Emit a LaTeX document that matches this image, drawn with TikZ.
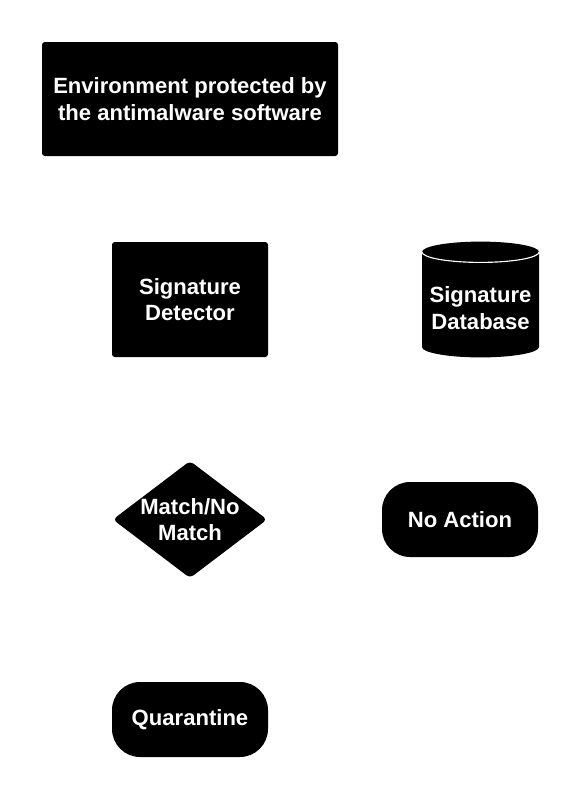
\documentclass[tikz,border=0pt]{standalone}
\usepackage{fontspec}
\setmainfont{Liberation Sans}
\usetikzlibrary{shapes.geometric}

\begin{document}
\begin{tikzpicture}[font=\fontsize{15.7}{19}\selectfont\bfseries,
  block/.style={fill=black, text=white, align=center, inner sep=0pt, rounded corners=2pt},
  terminal/.style={block, rounded corners=20pt, minimum width=3.9cm, minimum height=1.875cm},
  decision/.style={fill=black, shape=diamond, inner sep=0pt, rounded corners=3pt, minimum width=3.86cm, minimum height=2.93cm}]

\useasboundingbox (0,0) rectangle (14.5,-20);

% process boxes
\node[block, minimum width=7.4cm, minimum height=2.85cm] (env) at (4.75,-2.475)
{Environment protected by\\the antimalware software};
\node[block, minimum width=3.9cm, minimum height=2.875cm] (detector) at (4.75,-7.4875)
{Signature\\Detector};

% database cylinder
\fill (10.55,-6.3) arc[start angle=180, end angle=0, x radius=1.4625, y radius=0.26]
  -- (13.475,-8.675) arc[start angle=0, end angle=-180, x radius=1.4625, y radius=0.26] -- cycle;
\draw[white, line width=0.8pt] (10.55,-6.3) arc[start angle=180, end angle=360, x radius=1.4625, y radius=0.26];
\node[text=white, align=center, inner sep=0pt] (db) at (12.0125,-7.7) {Signature\\Database};

% decision and outcomes
\node[decision, label={[text=white, align=center, inner sep=0pt]center:{Match/No\\Match}}] (match) at (4.75,-12.9875) {};
\node[terminal] (noaction) at (11.5,-12.9875) {No Action};
\node[terminal] (quarantine) at (4.75,-17.9875) {Quarantine};

\end{tikzpicture}
\end{document}
